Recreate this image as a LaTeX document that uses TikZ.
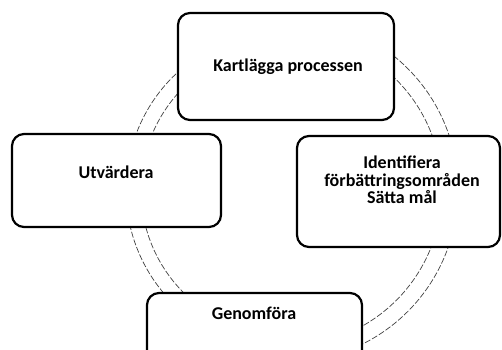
\documentclass[tikz,border=0pt]{standalone}
\usepackage{fontspec}
\setmainfont{Carlito}
\usetikzlibrary{calc}
\begin{document}
\begin{tikzpicture}[x=1pt,y=-1pt,
  box/.style={draw=black, line width=2.2pt, rounded corners=12pt, fill=white, inner sep=0pt},
  lbl/.style={font=\bfseries\fontsize{18}{17.5}\selectfont, align=center, inner sep=0pt, text=black},
  ring/.style={draw=black!75, line width=0.7pt, dash pattern=on 6pt off 2pt}]
\useasboundingbox (0,0) rectangle (502,349);
\clip (0,0) rectangle (502,349);
\coordinate (c) at (286,190);
% ring segments (curved arrows behind boxes)
\draw[ring] ($(c)+(-62:172)$) arc[start angle=-62,end angle=-8,radius=172]
  -- ($(c)+(-8:156)$) arc[start angle=-8,end angle=-62,radius=156] -- cycle;
\draw[ring] ($(c)+(18:172)$) arc[start angle=18,end angle=66,radius=172]
  -- ($(c)+(66:156)$) arc[start angle=66,end angle=18,radius=156] -- cycle;
\draw[ring] ($(c)+(114:160)$) arc[start angle=114,end angle=170,radius=160]
  -- ($(c)+(170:145)$) arc[start angle=170,end angle=114,radius=145] -- cycle;
\draw[ring] ($(c)+(190:160)$) arc[start angle=190,end angle=246,radius=160]
  -- ($(c)+(246:145)$) arc[start angle=246,end angle=190,radius=145] -- cycle;
% boxes
\node[box, minimum width=216pt, minimum height=107pt] (top) at (286,66.5) {};
\node[box, minimum width=203pt, minimum height=111pt] (right) at (398.5,191.5) {};
\node[box, minimum width=209pt, minimum height=93pt] (left) at (116.5,180.5) {};
\node[box, minimum width=215pt, minimum height=107pt] (bottom) at (254.5,346.5) {};
% labels
\node[lbl] (ttop) at (288,67) {Kartlägga processen};
\node[lbl] (tright) at (402,180) {Identifiera\\förbättringsområden\\Sätta mål};
\node[lbl] (tleft) at (116,172) {Utvärdera};
\node[lbl] (tbottom) at (254,313) {Genomföra};
\end{tikzpicture}
\end{document}
